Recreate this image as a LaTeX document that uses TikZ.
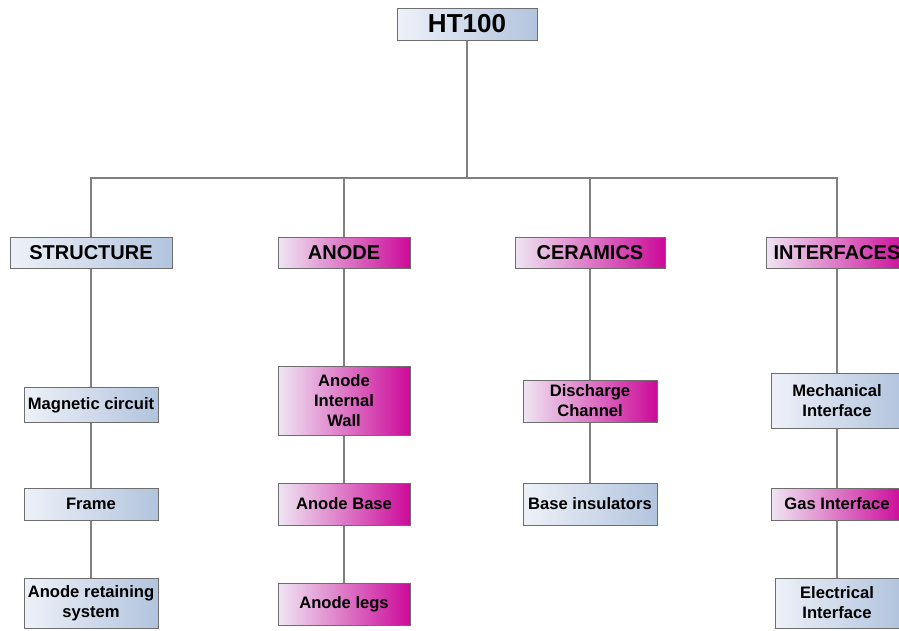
\documentclass[tikz,border=0pt]{standalone}
\usepackage{fontspec}
\setmainfont{Liberation Sans}
\usepackage{tikz}
\usetikzlibrary{positioning}

\definecolor{paleblue}{HTML}{EEF1F8}
\definecolor{steelblue}{HTML}{B2C4DE}
\definecolor{palepink}{HTML}{EFE6F3}
\definecolor{magenta}{HTML}{CC0A99}
\definecolor{rim}{HTML}{6E6E6E}

\begin{document}
\begin{tikzpicture}[x=1pt, y=-1pt, on grid,
        box/.style={draw=rim, line width=1pt, align=center, inner sep=1pt,
                    font=\fontsize{16.6}{20}\selectfont\bfseries},
        head/.style={box, minimum height=31pt, font=\fontsize{20}{23}\selectfont\bfseries},
        bluebox/.style={left color=paleblue, right color=steelblue},
        pinkbox/.style={left color=palepink, right color=magenta},
        link/.style={draw=gray, line width=1.2pt}]
        \useasboundingbox (0,0) rectangle (899,630);

        \node[head, bluebox, minimum width=140pt, minimum height=32pt, font=\fontsize{26}{29}\selectfont\bfseries] (ht) at (467,24) {HT100};
        \coordinate (bus) at (467,178);

        % column heads
        \node[head, bluebox, minimum width=162pt] (st) at (91,253) {STRUCTURE};
        \node[head, pinkbox, minimum width=132pt] (an) at (344,253) {ANODE};
        \node[head, pinkbox, minimum width=150pt] (ce) at (590,253) {CERAMICS};
        \node[head, pinkbox, minimum width=142pt] (if) at (837,253) {INTERFACES};

        % structure
        \node[box, bluebox, minimum width=134pt, minimum height=35pt] (mc) [below=152pt of st] {Magnetic circuit};
        \node[box, bluebox, minimum width=134pt, minimum height=32pt] (fr) [below=99pt of mc] {Frame};
        \node[box, bluebox, minimum width=134pt, minimum height=50pt] (ar) [below=99pt of fr] {Anode retaining\\system};

        % anode
        \node[box, pinkbox, minimum width=132pt, minimum height=69pt] (aw) [below=148pt of an] {Anode\\Internal\\Wall};
        \node[box, pinkbox, minimum width=132pt, minimum height=42pt] (ab) [below=103pt of aw] {Anode Base};
        \node[box, pinkbox, minimum width=132pt, minimum height=42pt] (al) [below=100pt of ab] {Anode legs};

        % ceramics
        \node[box, pinkbox, minimum width=134pt, minimum height=42pt] (dc) [below=148pt of ce] {Discharge\\Channel};
        \node[box, bluebox, minimum width=134pt, minimum height=42pt] (bi) [below=103pt of dc] {Base insulators};

        % interfaces
        \node[box, bluebox, minimum width=132pt, minimum height=55pt] (mi) [below=148pt of if] {Mechanical\\Interface};
        \node[box, pinkbox, minimum width=132pt, minimum height=32pt] (gi) [below=103pt of mi] {Gas Interface};
        \node[box, bluebox, minimum width=124pt, minimum height=50pt] (ei) [below=99pt of gi] {Electrical\\Interface};

        \path[link] (ht) -- (bus);
        \foreach \col in {st,an,ce,if}
            \path[link] (\col) |- (bus);

        \path[link] (st) -- (mc) -- (fr) -- (ar);
        \path[link] (an) -- (aw) -- (ab) -- (al);
        \path[link] (ce) -- (dc) -- (bi);
        \path[link] (if) -- (mi) -- (gi) -- (ei);
\end{tikzpicture}
\end{document}
